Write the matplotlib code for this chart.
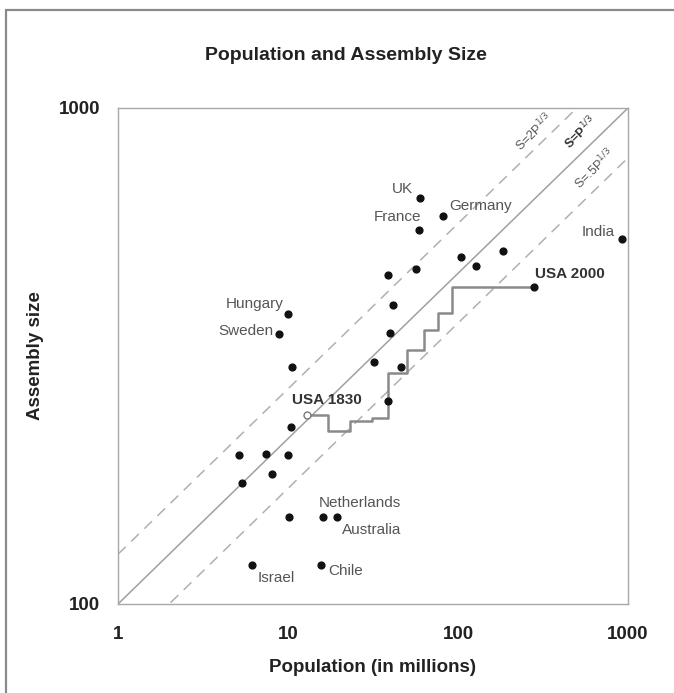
import numpy as np
import matplotlib
matplotlib.use("Agg")
import matplotlib.pyplot as plt
import matplotlib.patches as patches

plt.rcParams['font.family'] = ['Liberation Sans', 'DejaVu Sans']

# labelled countries: population (millions), assembly size
lab_names = ['UK', 'Germany', 'France', 'India', 'Hungary', 'Sweden',
             'Netherlands', 'Australia', 'Israel', 'Chile']
lab_pop = [59.7, 81.6, 59.0, 920, 10.0, 8.85, 16.1, 19.4, 6.14, 15.6]
lab_size = [660, 605, 568, 545, 385, 350, 150, 150, 120, 120]
# offset of the label from its dot (pixels) and alignment
lab_off = [(-7, 9), (6, 10), (2, 13), (-7, 7), (-4, 10), (-5, 3),
           (-4, 14), (5, -13), (6, -13), (7, -6)]
lab_ha = ['right', 'left', 'right', 'right', 'right', 'right',
          'left', 'left', 'left', 'left']

# other countries (no label)
oth_pop = [184, 104, 127, 57, 38.6, 41.5, 39.8, 32, 46.2, 10.6, 38.5,
           10.4, 5.15, 7.42, 10.0, 8.05, 5.36, 10.1]
oth_size = [515, 500, 480, 474, 460, 401, 352, 308, 300, 300, 257,
            227, 200, 201, 200, 183, 175, 150]

# USA House of Representatives by census, 1830 ... 1910 and 2000
usa_pop = [12.9, 17.1, 23.2, 31.4, 38.6, 50.2, 63.0, 76.2, 92.2, 281.4]
usa_size = [240, 223, 234, 237, 292, 325, 357, 386, 435, 435]

fig = plt.figure(figsize=(6.74, 6.93), dpi=100)
W, H = 674, 693
ax = fig.add_axes([118 / W, 89 / H, 510 / W, 496 / H])
ax.set_xscale('log')
ax.set_yscale('log')
ax.set_xlim(1, 1000)
ax.set_ylim(100, 1000)

# cube root law lines
P = np.logspace(0, 3, 200)
ax.plot(P, (2 * P * 1e6) ** (1 / 3), color='#b0b0b0', lw=1.1, dashes=(7, 5))
ax.plot(P, (P * 1e6) ** (1 / 3), color='#a0a0a0', lw=1.1)
ax.plot(P, (0.5 * P * 1e6) ** (1 / 3), color='#b0b0b0', lw=1.1, dashes=(7, 5))

ax.text(0.816, 0.952, r'S=2P$^{1/3}$', transform=ax.transAxes, rotation=44,
        ha='center', va='center', fontsize=9, color='#555555')
ax.text(0.908, 0.950, r'S=P$^{1/3}$', transform=ax.transAxes, rotation=44,
        ha='center', va='center', fontsize=9, color='#333333', fontweight='bold')
ax.text(0.935, 0.877, r'S=.5P$^{1/3}$', transform=ax.transAxes, rotation=44,
        ha='center', va='center', fontsize=9, color='#555555')

# USA steps
ax.plot(usa_pop, usa_size, drawstyle='steps-post', color='#8a8a8a', lw=1.8, zorder=2)
ax.plot(usa_pop[0], usa_size[0], 'o', ms=5, mfc='white', mec='#777777', mew=1, zorder=4)
ax.scatter(usa_pop[-1], usa_size[-1], s=24, color='#111111', zorder=4)
ax.annotate('USA 1830', (usa_pop[0], usa_size[0]), xytext=(-15, 15),
            textcoords='offset pixels', ha='left', va='center',
            fontsize=11, fontweight='bold', color='#333333')
ax.annotate('USA 2000', (usa_pop[-1], usa_size[-1]), xytext=(1, 13),
            textcoords='offset pixels', ha='left', va='center',
            fontsize=11, fontweight='bold', color='#333333')

ax.scatter(oth_pop, oth_size, s=24, color='#111111', zorder=3)
ax.scatter(lab_pop, lab_size, s=24, color='#111111', zorder=3)
for n, x, y, o, h in zip(lab_names, lab_pop, lab_size, lab_off, lab_ha):
    ax.annotate(n, (x, y), xytext=o, textcoords='offset pixels',
                ha=h, va='center', fontsize=11, color='#555555')

ax.minorticks_off()
ax.set_xticks([1, 10, 100, 1000])
ax.set_xticklabels(['1', '10', '100', '1000'])
ax.set_yticks([100, 1000])
ax.set_yticklabels(['100', '1000'])
ax.tick_params(length=0, labelsize=13.5)
ax.tick_params(axis='x', pad=16)
ax.tick_params(axis='y', pad=13)
for t in ax.get_xticklabels() + ax.get_yticklabels():
    t.set_fontweight('bold')
    t.set_color('#222222')
for s in ax.spines.values():
    s.set_color('#a8a8a8')
    s.set_linewidth(1)

fig.text(346 / W, 1 - 55 / H, 'Population and Assembly Size', ha='center', va='center',
         fontsize=14, fontweight='bold', color='#222222')
fig.text(373 / W, 1 - 668 / H, 'Population (in millions)', ha='center', va='center',
         fontsize=13.5, fontweight='bold', color='#222222')
fig.text(36 / W, 1 - 356 / H, 'Assembly size', ha='center', va='center', rotation=90,
         fontsize=13.5, fontweight='bold', color='#222222')

# outer frame (runs off the right and bottom edges)
fig.add_artist(patches.Rectangle((6 / W, -0.05), 1.1, (H - 10) / H + 0.05,
                                 transform=fig.transFigure, fill=False,
                                 edgecolor='#8a8a8a', lw=1.6, clip_on=False))

fig.savefig('out.png', dpi=100)
